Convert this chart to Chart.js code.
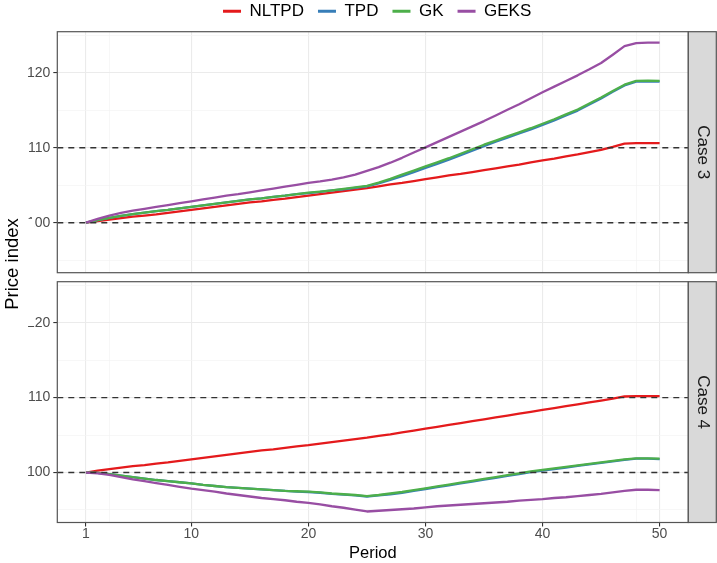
<!DOCTYPE html>
<html>
<head>
<meta charset="utf-8">
<script src="https://cdn.jsdelivr.net/npm/chart.js@4.4.1/dist/chart.umd.min.js"></script>
<style>
  html, body { margin: 0; padding: 0; background: #ffffff; width: 717px; height: 563px; overflow: hidden; }
  #wrap { position: relative; width: 717px; height: 563px; }
  #wrap canvas { position: absolute; left: 0; top: 0; }
</style>
</head>
<body>
<div id="wrap">
  <canvas id="case3" width="717" height="563"></canvas>
  <canvas id="case4" width="717" height="563"></canvas>
</div>
<script>
// ---------------- DATA ----------------
const periods = [1,2,3,4,5,6,7,8,9,10,11,12,13,14,15,16,17,18,19,20,21,22,23,24,25,26,27,28,29,30,31,32,33,34,35,36,37,38,39,40,41,42,43,44,45,46,47,48,49,50];
const seriesNames = ['NLTPD', 'TPD', 'GK', 'GEKS'];
const panelNames = ['Case 3', 'Case 4'];

const case3_NLTPD = [100.0,100.2,100.4,100.6,100.8,100.95,101.1,101.3,101.5,101.7,101.9,102.1,102.3,102.5,102.7,102.85,103.05,103.2,103.4,103.6,103.8,104.0,104.2,104.4,104.6,104.85,105.1,105.3,105.55,105.8,106.05,106.3,106.5,106.75,107.0,107.25,107.5,107.75,108.05,108.3,108.55,108.85,109.1,109.4,109.7,110.1,110.55,110.6,110.6,110.6];
const case3_TPD   = [100.0,100.35,100.65,100.9,101.15,101.35,101.55,101.7,101.9,102.1,102.3,102.5,102.7,102.9,103.1,103.25,103.45,103.6,103.8,103.95,104.1,104.3,104.45,104.65,104.85,105.25,105.7,106.2,106.75,107.3,107.85,108.4,109.0,109.6,110.2,110.8,111.35,111.9,112.45,113.05,113.65,114.3,114.95,115.75,116.55,117.45,118.3,118.8,118.85,118.8];
const case3_GK    = [100.0,100.35,100.65,100.9,101.15,101.35,101.55,101.7,101.9,102.1,102.3,102.5,102.7,102.9,103.1,103.25,103.45,103.6,103.8,104.0,104.15,104.3,104.5,104.7,104.9,105.35,105.85,106.4,106.95,107.5,108.05,108.6,109.2,109.8,110.4,110.95,111.5,112.05,112.6,113.2,113.8,114.45,115.1,115.9,116.7,117.55,118.4,118.9,118.95,118.9];
const case3_GEKS  = [100.0,100.5,100.95,101.3,101.6,101.85,102.1,102.35,102.6,102.85,103.1,103.35,103.6,103.8,104.05,104.3,104.55,104.8,105.05,105.3,105.5,105.75,106.05,106.4,106.9,107.4,108.0,108.65,109.35,110.05,110.75,111.45,112.15,112.85,113.55,114.3,115.05,115.8,116.6,117.4,118.15,118.9,119.65,120.45,121.3,122.4,123.55,123.95,124.0,124.0];

const case4_NLTPD = [100.0,100.25,100.45,100.65,100.85,101.0,101.2,101.35,101.55,101.75,101.95,102.15,102.35,102.55,102.75,102.95,103.1,103.3,103.5,103.65,103.85,104.05,104.25,104.45,104.65,104.9,105.1,105.35,105.6,105.85,106.1,106.35,106.6,106.85,107.1,107.35,107.6,107.85,108.1,108.35,108.6,108.85,109.1,109.35,109.6,109.85,110.15,110.2,110.2,110.2];
const case4_TPD   = [100.0,99.95,99.8,99.6,99.4,99.2,99.0,98.85,98.7,98.55,98.35,98.2,98.05,97.95,97.85,97.75,97.65,97.55,97.45,97.4,97.3,97.15,97.05,96.95,96.8,96.95,97.1,97.3,97.55,97.8,98.05,98.3,98.55,98.8,99.05,99.3,99.55,99.8,100.05,100.25,100.45,100.65,100.9,101.1,101.3,101.5,101.7,101.85,101.85,101.8];
const case4_GK    = [100.0,99.95,99.8,99.6,99.4,99.2,99.0,98.85,98.7,98.55,98.35,98.2,98.05,97.95,97.85,97.75,97.65,97.55,97.5,97.45,97.35,97.2,97.1,97.0,96.85,97.0,97.2,97.4,97.65,97.9,98.15,98.4,98.65,98.9,99.15,99.4,99.65,99.9,100.15,100.35,100.55,100.75,100.95,101.15,101.35,101.55,101.75,101.9,101.9,101.85];
const case4_GEKS  = [100.0,99.9,99.7,99.4,99.1,98.85,98.6,98.35,98.1,97.85,97.65,97.45,97.2,97.0,96.8,96.6,96.45,96.3,96.1,95.95,95.75,95.5,95.3,95.05,94.8,94.9,95.0,95.1,95.2,95.35,95.5,95.6,95.7,95.8,95.9,96.0,96.1,96.25,96.35,96.45,96.6,96.7,96.85,97.0,97.15,97.35,97.55,97.7,97.7,97.65];

const xTickLabels = [1, 10, 20, 30, 40, 50];
const xMinorGrid  = [3, 48];
const yTickLabels = [100, 110, 120];
const yMinorGrid  = [95, 105, 115, 125];
const refLines    = [100, 110];
const xTitle = 'Period';
const yTitle = 'Price index';

// ---------------- STYLE ----------------
const seriesColors = ['#E41A1C', '#377EB8', '#4DAF4A', '#984EA3'];
const FONT_R = "'Liberation Sans', Arial, sans-serif";
const X_RANGE = [-1.45, 52.45];
const Y_RANGE = [93.33, 125.47];
const LEGEND_SHIFT = 33;
const LEGEND_RAISE = 2;

const panelValues = [
  [case3_NLTPD, case3_TPD, case3_GK, case3_GEKS],
  [case4_NLTPD, case4_TPD, case4_GK, case4_GEKS]
];

function makeDatasets(vals) {
  return seriesNames.map((name, i) => ({
    label: name,
    data: periods.map((p, j) => ({ x: p, y: vals[i][j] })),
    borderColor: seriesColors[i],
    backgroundColor: seriesColors[i],
    borderWidth: 2.3,
    pointRadius: 0,
    tension: 0,
    fill: false,
    borderJoinStyle: 'round',
    order: seriesNames.length - i
  }));
}

const isIn = (arr, v) => arr.some(a => Math.abs(a - v) < 1e-9);

const facetPlugin = {
  id: 'facet',
  afterLayout(chart) {
    if (chart.options.plugins.legend.display && chart.legend) {
      chart.legend.left += LEGEND_SHIFT;
      chart.legend.right += LEGEND_SHIFT;
      chart.legend.top -= LEGEND_RAISE;
      chart.legend.bottom -= LEGEND_RAISE;
    }
  },
  afterDatasetsDraw(chart) {
    const { ctx, chartArea: a } = chart;
    const y = chart.scales.y;
    ctx.save();
    ctx.strokeStyle = '#333333';
    ctx.lineWidth = 1.4;
    ctx.setLineDash([6, 5]);
    refLines.forEach(v => {
      const py = y.getPixelForValue(v);
      ctx.beginPath();
      ctx.moveTo(a.left, py);
      ctx.lineTo(a.right, py);
      ctx.stroke();
    });
    ctx.restore();
  },
  afterDraw(chart, args, opts) {
    const { ctx, chartArea: a } = chart;
    ctx.save();
    // panel border
    ctx.strokeStyle = '#555555';
    ctx.lineWidth = 1.2;
    ctx.strokeRect(a.left, a.top, a.right - a.left, a.bottom - a.top);
    // strip
    const sx = a.right, sw = chart.width - 0.7 - a.right;
    ctx.fillStyle = '#D9D9D9';
    ctx.fillRect(sx, a.top, sw, a.bottom - a.top);
    ctx.strokeRect(sx, a.top, sw, a.bottom - a.top);
    ctx.save();
    ctx.translate(sx + sw / 2 + 0.5, (a.top + a.bottom) / 2);
    ctx.rotate(Math.PI / 2);
    ctx.fillStyle = '#1A1A1A';
    ctx.font = '17px ' + FONT_R;
    ctx.textAlign = 'center';
    ctx.textBaseline = 'middle';
    ctx.fillText(opts.label, 0, 0);
    ctx.restore();
    // shared y title (drawn once, on the lower panel's canvas)
    if (opts.yTitle) {
      ctx.fillStyle = '#ffffff';
      ctx.fillRect(0, 219, 34.5, 107);
      ctx.save();
      ctx.translate(12.5, 264);
      ctx.rotate(-Math.PI / 2);
      ctx.fillStyle = '#000000';
      ctx.font = '18.5px ' + FONT_R;
      ctx.textAlign = 'center';
      ctx.textBaseline = 'middle';
      ctx.fillText(yTitle, 0, 0);
      ctx.restore();
    }
    ctx.restore();
  }
};

function gridOpts(major) {
  return {
    color: c => (c.tick && isIn(major, c.tick.value)) ? '#EBEBEB' : '#F4F4F4',
    lineWidth: c => (c.tick && isIn(major, c.tick.value)) ? 1.1 : 0.7,
    tickColor: c => (c.tick && isIn(major, c.tick.value)) ? '#333333' : 'rgba(0,0,0,0)',
    tickLength: 4,
    tickWidth: 1.1,
    drawOnChartArea: true
  };
}

function buildOptions(idx) {
  const isTop = idx === 0;
  return {
    responsive: false,
    animation: false,
    devicePixelRatio: 1,
    events: [],
    layout: {
      padding: isTop
        ? { left: 0, right: 28.7, top: -9.3, bottom: 290.3 }
        : { left: 0, right: 28.7, top: 281.7, bottom: 0 }
    },
    plugins: {
      tooltip: { enabled: false },
      legend: isTop ? {
        display: true,
        position: 'top',
        align: 'center',
        labels: {
          usePointStyle: true,
          pointStyle: 'line',
          pointStyleWidth: 18,
          padding: 14,
          color: '#000000',
          font: { family: FONT_R, size: 17 },
          generateLabels(chart) {
            const items = Chart.defaults.plugins.legend.labels.generateLabels(chart);
            items.forEach(it => { it.lineWidth = 3; it.pointStyle = 'line'; });
            return items.sort((p, q) => p.datasetIndex - q.datasetIndex);
          }
        }
      } : { display: false },
      facet: { label: panelNames[idx], yTitle: !isTop }
    },
    scales: {
      x: {
        type: 'linear',
        min: X_RANGE[0],
        max: X_RANGE[1],
        afterBuildTicks: s => { s.ticks = [...xTickLabels, ...xMinorGrid].sort((p, q) => p - q).map(v => ({ value: v })); },
        afterFit: s => { s.height = isTop ? 0 : 40.5; },
        border: { display: false },
        grid: Object.assign(gridOpts(xTickLabels), { drawTicks: !isTop }),
        ticks: {
          display: !isTop,
          autoSkip: false,
          maxRotation: 0,
          padding: 1,
          color: '#4D4D4D',
          font: { family: FONT_R, size: 14, lineHeight: 1 },
          callback: v => isIn(xTickLabels, v) ? String(v) : ''
        },
        title: {
          display: !isTop,
          text: xTitle,
          color: '#000000',
          padding: { top: 0, bottom: 1.75 },
          font: { family: FONT_R, size: 16.5, lineHeight: 1 }
        }
      },
      y: {
        type: 'linear',
        min: Y_RANGE[0],
        max: Y_RANGE[1],
        afterBuildTicks: s => { s.ticks = [...yTickLabels, ...yMinorGrid].sort((p, q) => p - q).map(v => ({ value: v })); },
        afterFit: s => { s.width = 57.3; },
        border: { display: false },
        grid: gridOpts(yTickLabels),
        ticks: {
          autoSkip: false,
          padding: 3,
          color: '#4D4D4D',
          font: { family: FONT_R, size: 14 },
          callback: v => isIn(yTickLabels, v) ? String(v) : ''
        }
      }
    }
  };
}

['case3', 'case4'].forEach((id, idx) => {
  new Chart(document.getElementById(id), {
    type: 'line',
    data: { datasets: makeDatasets(panelValues[idx]) },
    options: buildOptions(idx),
    plugins: [facetPlugin]
  });
});
</script>
</body>
</html>
